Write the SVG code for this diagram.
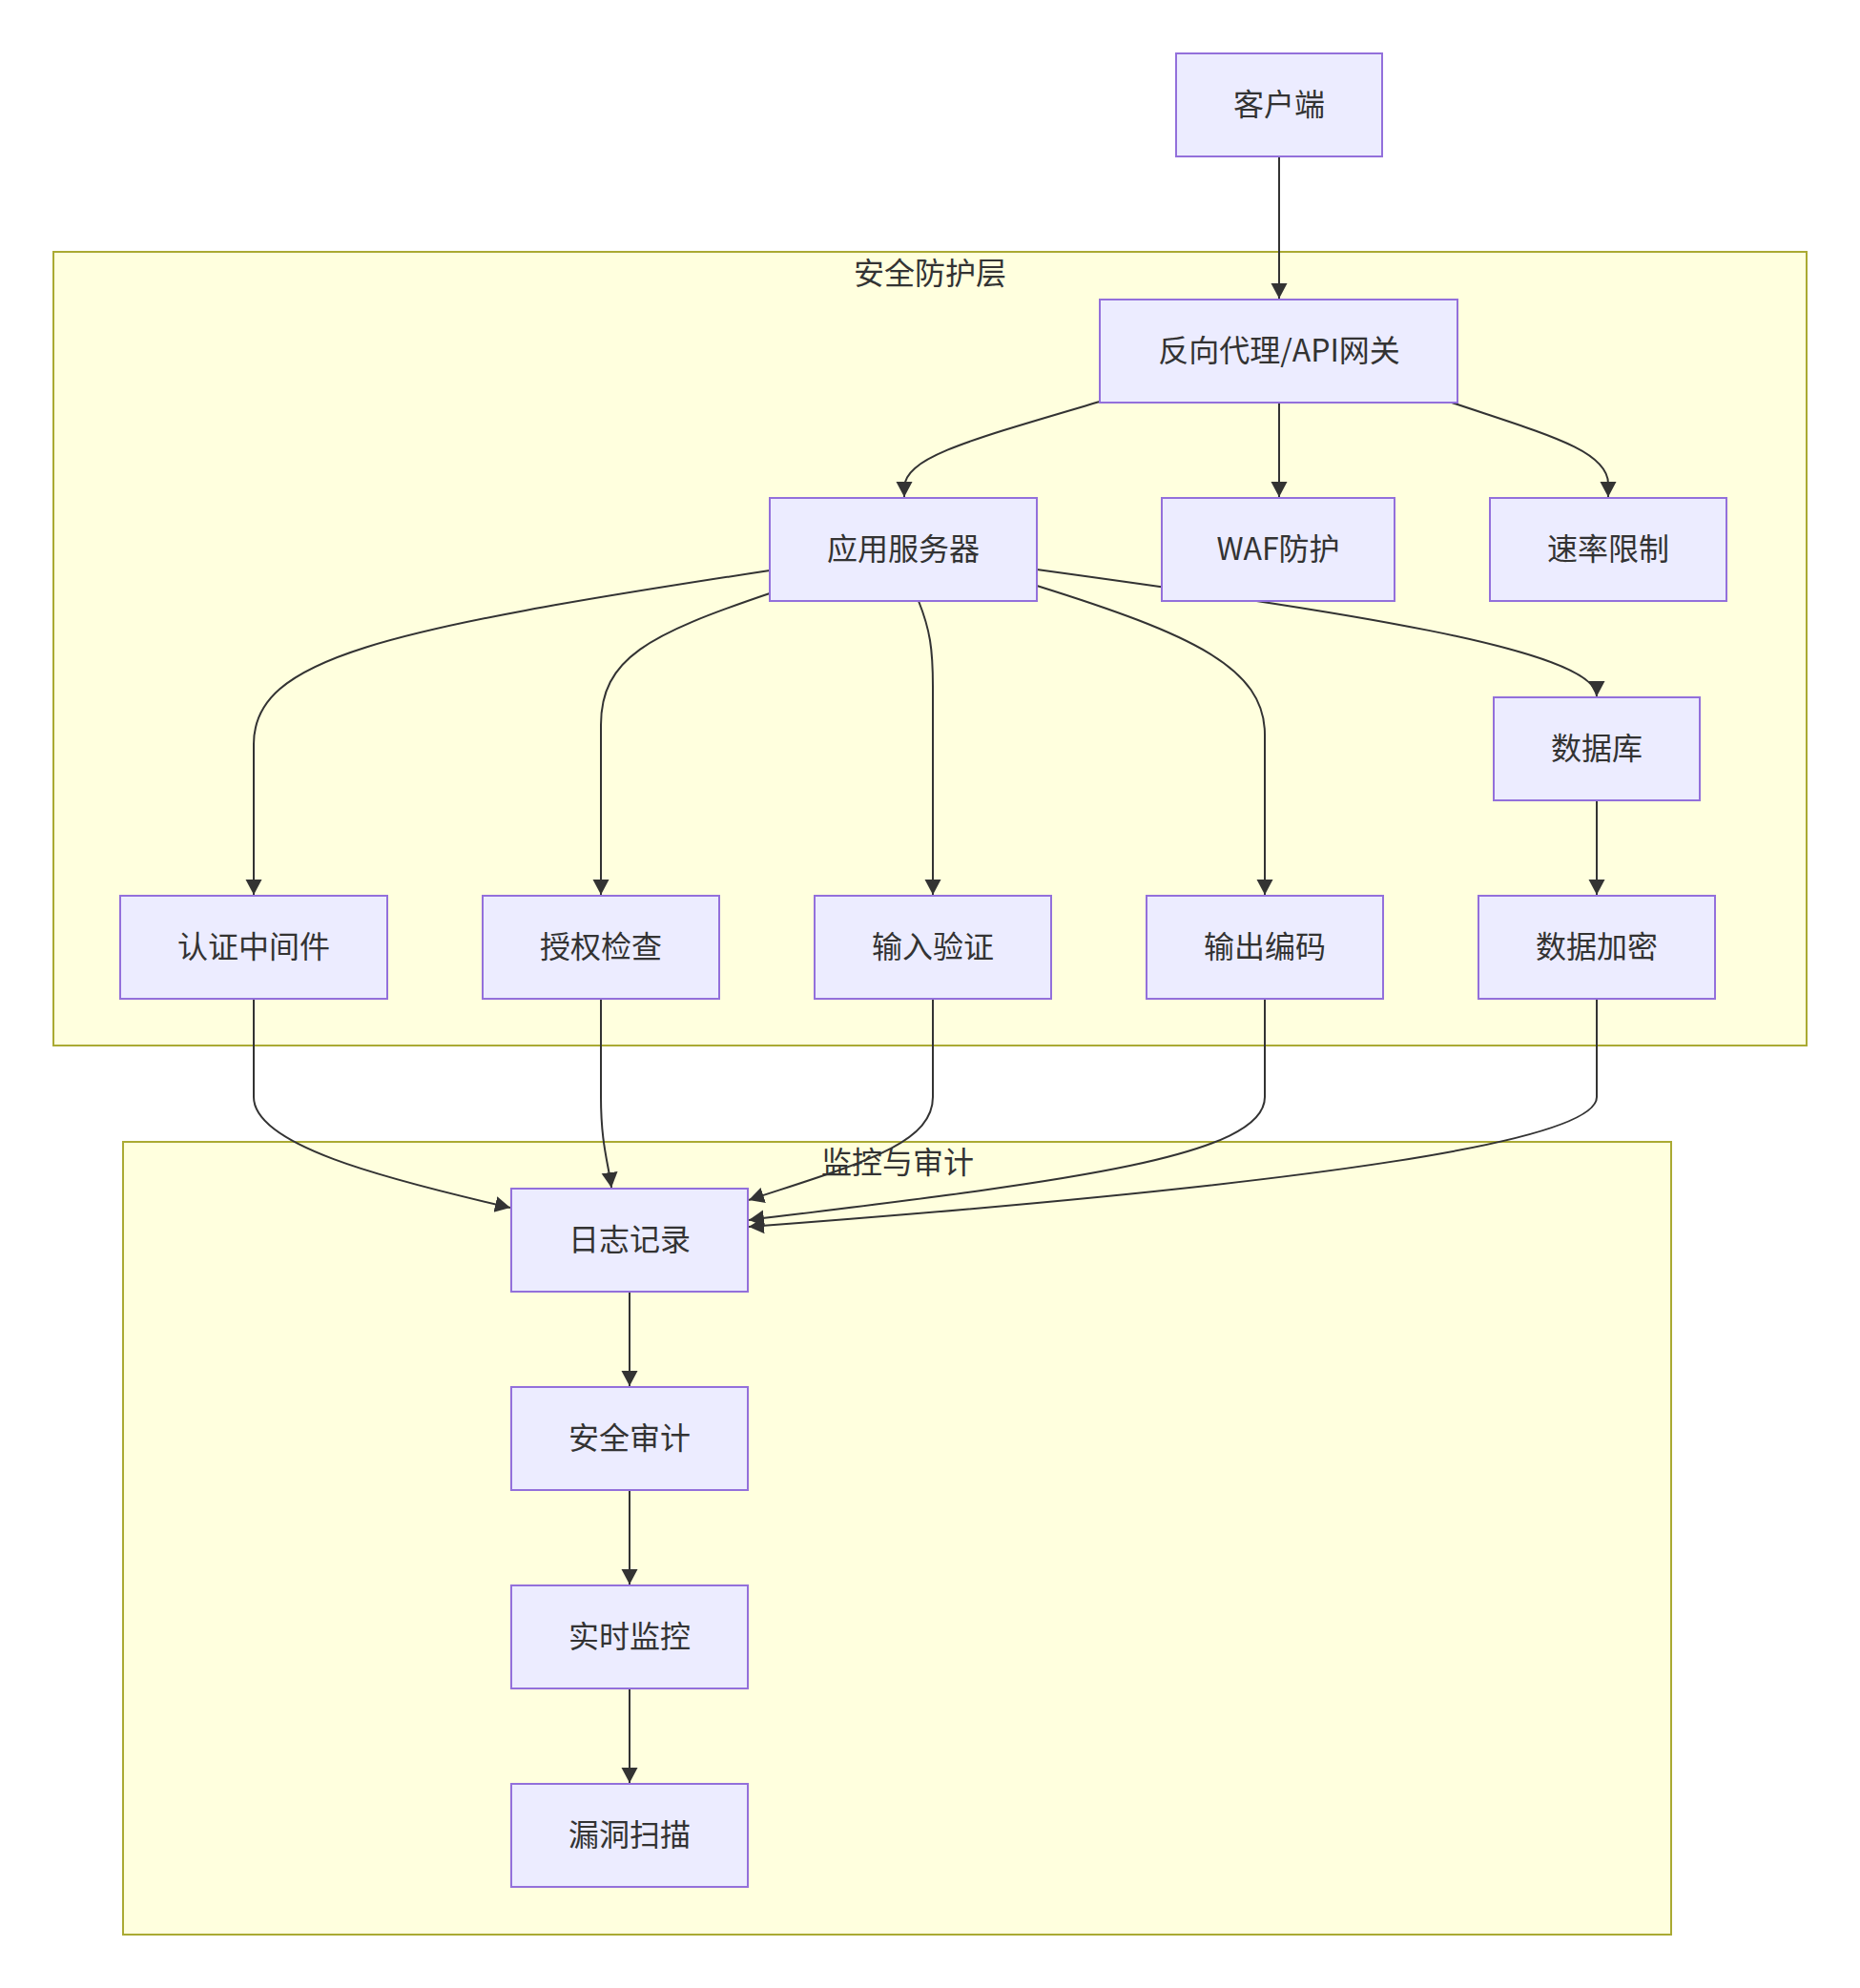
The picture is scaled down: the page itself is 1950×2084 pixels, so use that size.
<svg xmlns="http://www.w3.org/2000/svg" width="1950" height="2084" viewBox="0 0 1950 2084">
<style>
.cluster{fill:#FFFFDE;stroke:#AAAA33;stroke-width:2}
.node rect{fill:#ECECFF;stroke:#9370DB;stroke-width:2}
text{font-family:"Noto Sans CJK SC","Noto Sans",sans-serif;font-size:32px;fill:#333333;text-anchor:middle;dominant-baseline:central}
.edge{fill:none;stroke:#333333;stroke-width:2}
</style>
<defs>
<marker id="arrow" markerUnits="userSpaceOnUse" markerWidth="18" markerHeight="18" refX="16" refY="8.5" orient="auto">
<path d="M0,0 L16,8.5 L0,17 z" fill="#333333"/>
</marker>
</defs>
<rect width="1950" height="2084" fill="#ffffff"/>
<g id="cluster-security">
<rect class="cluster" x="56" y="264" width="1838" height="832"/>
<text x="975" y="284">安全防护层</text>
</g>
<g id="cluster-monitor">
<rect class="cluster" x="129" y="1197" width="1623" height="831"/>
<text x="941" y="1216">监控与审计</text>
</g>
<g id="edges">
<path class="edge" marker-end="url(#arrow)" d="M1341,164 L1341,313"/>
<path class="edge" marker-end="url(#arrow)" d="M1153,421 C1010,463 948,480 948,512 L948,521"/>
<path class="edge" marker-end="url(#arrow)" d="M1341,422 L1341,521"/>
<path class="edge" marker-end="url(#arrow)" d="M1522,422 C1620,455 1686,472 1686,507 L1686,521"/>
<path class="edge" marker-end="url(#arrow)" d="M807,598 C400,660 266,690 266,780 L266,938"/>
<path class="edge" marker-end="url(#arrow)" d="M807,622 C680,665 630,690 630,760 L630,938"/>
<path class="edge" marker-end="url(#arrow)" d="M963,630 C975,660 978,680 978,720 L978,938"/>
<path class="edge" marker-end="url(#arrow)" d="M1087,614 C1250,665 1326,700 1326,770 L1326,938"/>
<path class="edge" marker-end="url(#arrow)" d="M1087,597 C1400,640 1674,680 1674,730"/>
<path class="edge" marker-end="url(#arrow)" d="M1674,839 L1674,938"/>
<path class="edge" marker-end="url(#arrow)" d="M266,1047 L266,1150 C266,1200 400,1235 535,1266"/>
<path class="edge" marker-end="url(#arrow)" d="M630,1047 L630,1150 C630,1200 638,1220 641,1245"/>
<path class="edge" marker-end="url(#arrow)" d="M978,1047 L978,1150 C978,1200 900,1220 785,1258"/>
<path class="edge" marker-end="url(#arrow)" d="M1326,1047 L1326,1150 C1326,1215 1100,1240 785,1279"/>
<path class="edge" marker-end="url(#arrow)" d="M1674,1047 L1674,1150 C1674,1195 1400,1240 785,1286"/>
<path class="edge" marker-end="url(#arrow)" d="M660,1354 L660,1453"/>
<path class="edge" marker-end="url(#arrow)" d="M660,1562 L660,1661"/>
<path class="edge" marker-end="url(#arrow)" d="M660,1770 L660,1869"/>
</g>
<g id="node-client" class="node"><rect x="1233" y="56" width="216" height="108"/><text x="1341" y="107">客户端</text></g>
<g id="node-gateway" class="node"><rect x="1153" y="314" width="375" height="108"/><text x="1341" y="365">反向代理/API网关</text></g>
<g id="node-app" class="node"><rect x="807" y="522" width="280" height="108"/><text x="947" y="573">应用服务器</text></g>
<g id="node-waf" class="node"><rect x="1218" y="522" width="244" height="108"/><text x="1340" y="573">WAF防护</text></g>
<g id="node-rate" class="node"><rect x="1562" y="522" width="248" height="108"/><text x="1686" y="573">速率限制</text></g>
<g id="node-db" class="node"><rect x="1566" y="731" width="216" height="108"/><text x="1674" y="782">数据库</text></g>
<g id="node-auth" class="node"><rect x="126" y="939" width="280" height="108"/><text x="266" y="990">认证中间件</text></g>
<g id="node-authz" class="node"><rect x="506" y="939" width="248" height="108"/><text x="630" y="990">授权检查</text></g>
<g id="node-input" class="node"><rect x="854" y="939" width="248" height="108"/><text x="978" y="990">输入验证</text></g>
<g id="node-output" class="node"><rect x="1202" y="939" width="248" height="108"/><text x="1326" y="990">输出编码</text></g>
<g id="node-encrypt" class="node"><rect x="1550" y="939" width="248" height="108"/><text x="1674" y="990">数据加密</text></g>
<g id="node-log" class="node"><rect x="536" y="1246" width="248" height="108"/><text x="660" y="1297">日志记录</text></g>
<g id="node-audit" class="node"><rect x="536" y="1454" width="248" height="108"/><text x="660" y="1505">安全审计</text></g>
<g id="node-monitor" class="node"><rect x="536" y="1662" width="248" height="108"/><text x="660" y="1713">实时监控</text></g>
<g id="node-scan" class="node"><rect x="536" y="1870" width="248" height="108"/><text x="660" y="1921">漏洞扫描</text></g>
</svg>
